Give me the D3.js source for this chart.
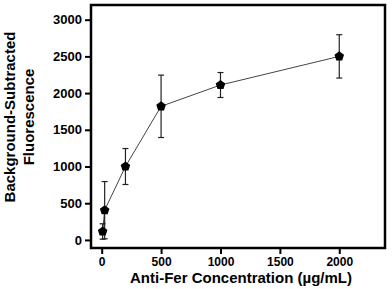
<!DOCTYPE html>
<html>
<head>
<meta charset="utf-8">
<script src="https://cdn.jsdelivr.net/npm/d3@7"></script>
<style>
  body { margin: 0; background: #fff; }
  svg { display: block; }
  text { font-family: Arial, "Liberation Sans", sans-serif; font-weight: bold; fill: #000; }
</style>
</head>
<body>
<svg id="chart" width="392" height="289"></svg>
<script>
// concentration (ug/mL), mean and error
const conc = [8, 25, 200, 500, 1000, 2000];
const fluor = [115, 405, 1000, 1820, 2110, 2500];
const errs = [105, 390, 245, 425, 170, 295];
const xTicks = [0, 500, 1000, 1500, 2000];
const yTicks = [0, 500, 1000, 1500, 2000, 2500, 3000];

const svg = d3.select("#chart");
const pLeft = 91, pRight = 385, pTop = 5, pBottom = 248;

const x = d3.scaleLinear().domain([-90, 2385]).range([pLeft, pRight]);
const y = d3.scaleLinear().domain([-110, 3200]).range([pBottom, pTop]);

// pentagon marker
const pentagon = {
  draw(ctx, size) {
    const r = Math.sqrt(size / 2.378);
    for (let i = 0; i < 5; i++) {
      const a = -Math.PI / 2 + i * 2 * Math.PI / 5;
      const px = r * Math.cos(a), py = r * Math.sin(a);
      if (i === 0) ctx.moveTo(px, py); else ctx.lineTo(px, py);
    }
    ctx.closePath();
  }
};

// axes
const yAxis = svg.append("g")
  .attr("transform", `translate(${pLeft - 1},0)`)
  .call(d3.axisLeft(y).tickValues(yTicks).tickFormat(d3.format("d"))
    .tickSize(5).tickPadding(3).tickSizeOuter(0));
const xAxis = svg.append("g")
  .attr("transform", `translate(0,${pBottom + 1})`)
  .call(d3.axisBottom(x).tickValues(xTicks).tickFormat(d3.format("d"))
    .tickSize(5).tickPadding(3).tickSizeOuter(0));
[yAxis, xAxis].forEach(g => {
  g.select(".domain").remove();
  g.selectAll(".tick line").attr("stroke", "#000").attr("stroke-width", 2);
  g.selectAll(".tick text").attr("fill", "#000");
});
yAxis.selectAll(".tick text").style("font-size", "13px");
xAxis.selectAll(".tick text").style("font-size", "12px");

// frame
svg.append("rect")
  .attr("x", pLeft).attr("y", pTop)
  .attr("width", pRight - pLeft).attr("height", pBottom - pTop)
  .attr("fill", "none").attr("stroke", "#000").attr("stroke-width", 2.5);

const data = conc.map((c, i) => ({ c, v: fluor[i], e: errs[i] }));

// connecting line
svg.append("path")
  .datum(data)
  .attr("fill", "none")
  .attr("stroke", "#444")
  .attr("stroke-width", 1)
  .attr("d", d3.line().x(d => x(d.c)).y(d => y(d.v)));

// error bars
const eb = svg.append("g").attr("stroke", "#222").attr("stroke-width", 1.2);
data.forEach(d => {
  const cx = x(d.c);
  eb.append("line").attr("x1", cx).attr("x2", cx).attr("y1", y(d.v - d.e)).attr("y2", y(d.v + d.e));
  [d.v - d.e, d.v + d.e].forEach(v => {
    eb.append("line").attr("x1", cx - 3).attr("x2", cx + 3).attr("y1", y(v)).attr("y2", y(v));
  });
});

// markers
svg.append("g").selectAll("path")
  .data(data)
  .join("path")
  .attr("transform", d => `translate(${x(d.c)},${y(d.v)})`)
  .attr("d", d3.symbol().type(pentagon).size(60))
  .attr("fill", "#000");

// axis titles
svg.append("text")
  .attr("x", (pLeft + pRight) / 2 + 3).attr("y", 283)
  .attr("text-anchor", "middle")
  .style("font-size", "15px")
  .text("Anti-Fer Concentration (µg/mL)");

const yt = svg.append("text")
  .attr("transform", "translate(15,117) rotate(-90)")
  .attr("text-anchor", "middle")
  .style("font-size", "15px");
yt.append("tspan").attr("x", 0).attr("dy", 0).text("Background-Subtracted");
yt.append("tspan").attr("x", 0).attr("dy", 19).text("Fluorescence");
</script>
</body>
</html>
